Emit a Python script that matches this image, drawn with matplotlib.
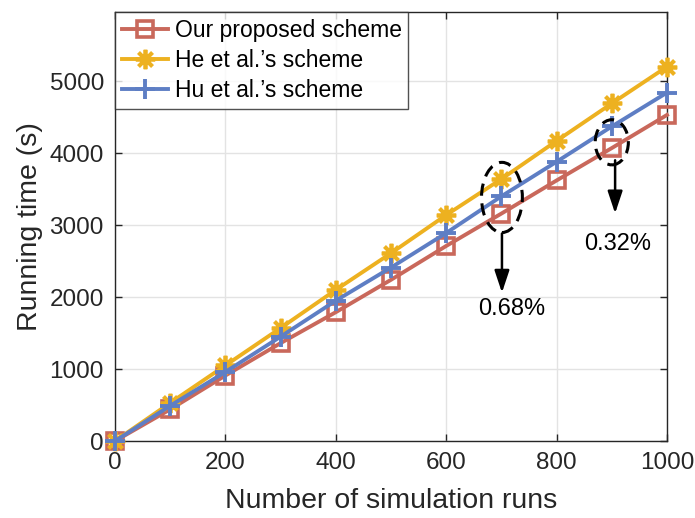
import matplotlib.pyplot as plt
from matplotlib.patches import Ellipse

plt.rcParams['font.family'] = ['Liberation Sans', 'DejaVu Sans']

# Running time (s) for each number of simulation runs
runs = [0, 100, 200, 300, 400, 500, 600, 700, 800, 900, 1000]
ours = [0, 440, 910, 1360, 1790, 2240, 2710, 3160, 3620, 4070, 4530]
he = [0, 530, 1050, 1570, 2100, 2610, 3140, 3640, 4170, 4690, 5200]
hu = [0, 490, 960, 1450, 1950, 2410, 2890, 3400, 3880, 4370, 4840]

red = '#C9685B'
yellow = '#EDB120'
blue = '#5E7EC4'

fig = plt.figure(figsize=(6.95, 5.18), dpi=100)
ax = fig.add_axes([0.1655, 0.1486, 0.7942, 0.8282])

ax.plot(runs, ours, color=red, lw=2.8, marker='s', ms=12, mfc='none',
        mec=red, mew=2.6, label='Our proposed scheme', clip_on=False, zorder=3)
ax.plot(runs, he, color=yellow, lw=2.8, marker=(8, 2, 0), ms=14,
        mec=yellow, mew=2.7, label='He et al.\u2019s scheme', clip_on=False, zorder=4)
ax.plot(runs, hu, color=blue, lw=2.8, marker='+', ms=15,
        mec=blue, mew=2.8, label='Hu et al.\u2019s scheme', clip_on=False, zorder=5)

# dashed ellipses marking the compared points
for cx, cy, w, h in [(701, 3384, 74, 975), (900, 4150, 60, 627)]:
    ax.add_patch(Ellipse((cx, cy), w, h, fill=False, ls=(0, (4, 2.5)),
                         lw=2.2, ec='black', zorder=6))

arrow = dict(arrowstyle='-|>,head_length=0.75,head_width=0.25', color='black',
             lw=1.8, mutation_scale=18, shrinkA=0, shrinkB=0)
ax.annotate('', xy=(701, 2061), xytext=(701, 2883), arrowprops=arrow)
ax.annotate('', xy=(906, 3162), xytext=(906, 3900), arrowprops=arrow)
ax.text(719, 1838, '0.68%', fontsize=17, ha='center', va='center')
ax.text(911, 2744, '0.32%', fontsize=17, ha='center', va='center')

ax.set_xlim(0, 1000)
ax.set_ylim(0, 5960)
ax.set_xticks(range(0, 1001, 200))
ax.set_yticks(range(0, 5001, 1000))
ax.grid(True, color='#E3E3E3', lw=1.0)
ax.set_axisbelow(True)
for s in ax.spines.values():
    s.set_color('#262626')
    s.set_linewidth(1.0)
ax.tick_params(direction='in', length=5, width=1.0, color='#262626',
               labelsize=17.5, top=True, right=True, pad=8, labelcolor='#262626')

ax.set_xlabel('Number of simulation runs', fontsize=20.5, color='#262626', labelpad=10)
ax.set_ylabel('Running time (s)', fontsize=20.5, color='#262626', labelpad=5)

leg = ax.legend(loc='upper left', fontsize=16.5, frameon=True, fancybox=False,
                borderaxespad=0, handlelength=2.0, handletextpad=0.3,
                labelspacing=0.3, borderpad=0.3)
leg.get_frame().set_edgecolor('#262626')
leg.get_frame().set_linewidth(1.0)
leg.set_zorder(10)

fig.savefig('out.png', dpi=100)
